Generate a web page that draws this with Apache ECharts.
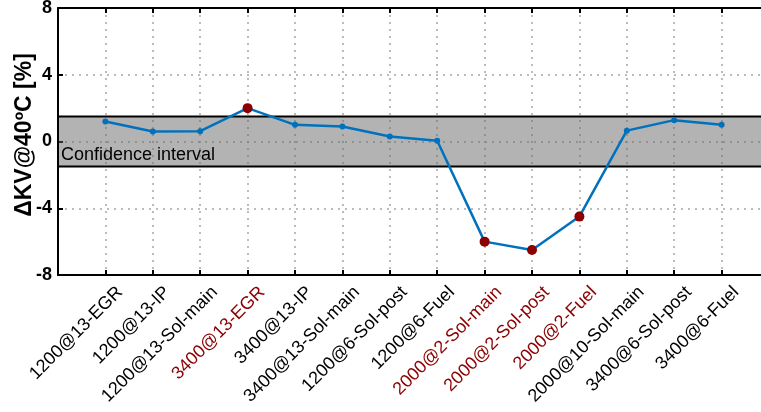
<!DOCTYPE html>
<html>
<head>
<meta charset="utf-8">
<script src="https://cdn.jsdelivr.net/npm/echarts@6/dist/echarts.min.js"></script>
<style>
  html, body { margin: 0; padding: 0; background: #fff; }
  #chart { width: 761px; height: 412px; }
</style>
</head>
<body>
<div id="chart"></div>
<script>
// Operating points (speed@load-parameter)
const categories = [
  '1200@13-EGR', '1200@13-IP', '1200@13-Sol-main', '3400@13-EGR',
  '3400@13-IP', '3400@13-Sol-main', '1200@6-Sol-post', '1200@6-Fuel',
  '2000@2-Sol-main', '2000@2-Sol-post', '2000@2-Fuel', '2000@10-Sol-main',
  '3400@6-Sol-post', '3400@6-Fuel'
];
// Relative change of kinematic viscosity at 40 °C [%]
const deltaKV = [1.2, 0.6, 0.62, 2.0, 1.0, 0.9, 0.3, 0.05, -6.0, -6.5, -4.5, 0.65, 1.28, 1.0];
// Points falling outside the confidence band
const outsideBand = ['3400@13-EGR', '2000@2-Sol-main', '2000@2-Sol-post', '2000@2-Fuel'];
// Half-width of the confidence interval [%]
const confidenceHalfWidth = 1.5;
const yTicks = [-8, -4, 0, 4, 8];

const FONT = "'Liberation Sans', Arial, Helvetica, sans-serif";
const BLUE = '#0072BD';
const DARK_RED = '#8B0000';
const GRID_DOT = { color: '#a6a6a6', width: 1.5, type: [2, 5] };
const LABEL_LH = 41;

const points = deltaKV.map((v, i) => {
  const flagged = outsideBand.includes(categories[i]);
  return {
    value: [i, v],
    symbolSize: flagged ? 10 : 6,
    itemStyle: { color: flagged ? DARK_RED : BLUE }
  };
});

const chart = echarts.init(document.getElementById('chart'), null, { renderer: 'canvas' });

chart.setOption({
  animation: false,
  backgroundColor: '#fff',
  grid: {
    left: 58, top: 8, width: 711, bottom: 137,
    containLabel: false, outerBoundsMode: 'none'
  },
  xAxis: [
    {
      type: 'value',
      min: -1,
      max: categories.length,
      interval: 1,
      position: 'bottom',
      axisLine: { show: true, onZero: false, lineStyle: { color: '#000', width: 2 } },
      axisTick: { show: true, inside: true, length: 5, lineStyle: { color: '#000', width: 2 } },
      splitLine: { show: true, lineStyle: GRID_DOT },
      axisLabel: {
        rotate: 45,
        margin: 0,
        align: 'right',
        verticalAlign: 'top',
        lineHeight: LABEL_LH,
        fontFamily: FONT,
        fontSize: 18,
        color: '#000',
        showMinLabel: true,
        showMaxLabel: true,
        hideOverlap: false,
        formatter: function (val) {
          const name = categories[Math.round(val)];
          if (name === undefined || val < 0) return '';
          return outsideBand.includes(name) ? '{r|' + name + '}' : '{k|' + name + '}';
        },
        rich: {
          r: { color: DARK_RED, fontFamily: FONT, fontSize: 18, lineHeight: LABEL_LH },
          k: { color: '#000', fontFamily: FONT, fontSize: 18, lineHeight: LABEL_LH }
        }
      }
    },
    {
      type: 'value',
      min: -1,
      max: categories.length,
      interval: 1,
      position: 'top',
      axisLine: { show: true, onZero: false, lineStyle: { color: '#000', width: 2 } },
      axisTick: { show: true, inside: true, length: 5, lineStyle: { color: '#000', width: 2 } },
      splitLine: { show: false },
      axisLabel: { show: false }
    }
  ],
  yAxis: {
    type: 'value',
    min: yTicks[0],
    max: yTicks[yTicks.length - 1],
    interval: 4,
    name: 'ΔKV@40ºC [%]',
    nameLocation: 'middle',
    nameRotate: 90,
    nameGap: 22,
    nameMoveOverlap: false,
    nameTextStyle: {
      fontFamily: FONT, fontSize: 23, fontWeight: 'bold', color: '#000',
      padding: [0, 0, 0, 13]
    },
    axisLine: { show: true, onZero: false, lineStyle: { color: '#000', width: 2 } },
    axisTick: { show: true, inside: true, length: 5, lineStyle: { color: '#000', width: 2 } },
    splitLine: { show: true, lineStyle: GRID_DOT },
    axisLabel: {
      margin: 6,
      fontFamily: FONT,
      fontSize: 18,
      fontWeight: 'bold',
      color: '#000'
    }
  },
  series: [
    {
      // confidence band, kept beneath the data line
      type: 'line',
      z: 1,
      data: [],
      silent: true,
      markArea: {
        silent: true,
        itemStyle: {
          color: 'rgba(100,100,100,0.49)',
          borderColor: '#000',
          borderWidth: 2
        },
        label: {
          show: true,
          position: 'insideBottomLeft',
          distance: 4,
          fontFamily: FONT,
          fontSize: 18,
          color: '#000'
        },
        data: [[
          { name: 'Confidence interval', xAxis: -1, yAxis: -confidenceHalfWidth },
          { xAxis: categories.length, yAxis: confidenceHalfWidth }
        ]]
      }
    },
    {
      type: 'line',
      z: 3,
      data: points,
      symbol: 'circle',
      showAllSymbol: true,
      lineStyle: { color: BLUE, width: 2.5 },
      itemStyle: { color: BLUE }
    }
  ]
});
</script>
</body>
</html>
